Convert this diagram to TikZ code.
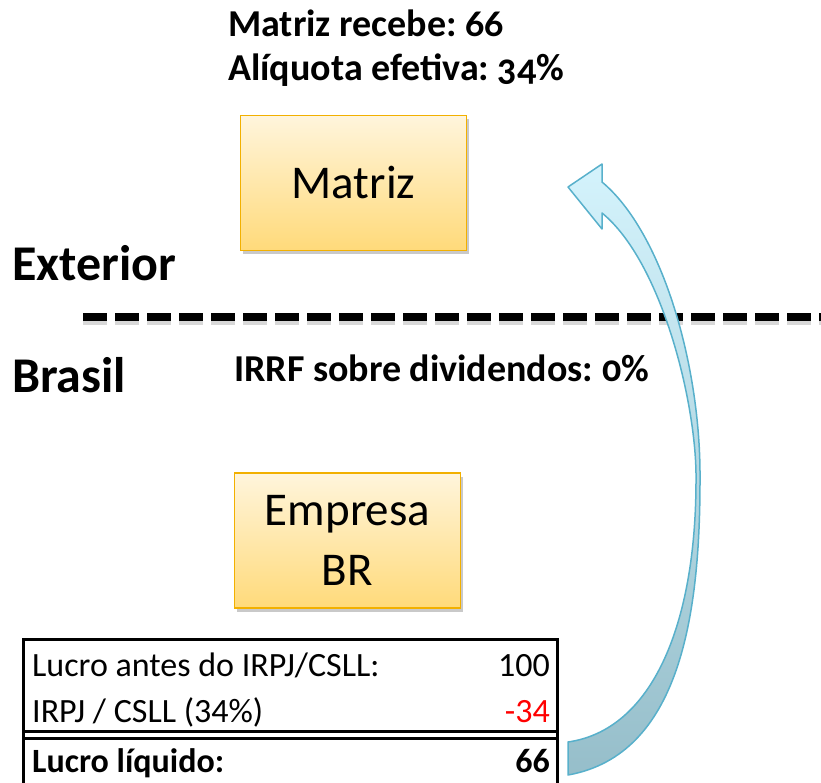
\documentclass[tikz,border=0pt]{standalone}
\usepackage{fontspec}
\setmainfont{Carlito}
\newfontfamily\headfont[Numbers=OldStyle]{Carlito}
\usetikzlibrary{shadows}
\frenchspacing
\definecolor{boxborder}{RGB}{242,176,0}
\definecolor{boxtop}{RGB}{255,245,220}
\definecolor{boxbot}{RGB}{255,218,122}
\definecolor{arrborder}{RGB}{88,176,203}
\definecolor{arrtop}{RGB}{212,243,252}
\definecolor{arrmid}{RGB}{170,222,238}
\definecolor{arrbot}{RGB}{150,190,202}
\definecolor{negred}{RGB}{255,0,0}
\begin{document}
\begin{tikzpicture}[x=1pt,y=-1pt,
  entity/.style={draw=boxborder, line width=1.6pt, top color=boxtop, bottom color=boxbot,
    minimum width=226pt, minimum height=135pt, align=center,
    font=\fontsize{47}{60}\selectfont,
    drop shadow={shadow xshift=2pt, shadow yshift=-4pt, opacity=0.3, fill=black!70}},
  heading/.style={font=\headfont\bfseries\fontsize{38}{44}\selectfont, inner sep=0pt, anchor=base west},
  region/.style={font=\headfont\bfseries\fontsize{50}{56}\selectfont, inner sep=0pt, anchor=base west},
  cell/.style={font=\fontsize{34}{40}\selectfont, inner sep=0pt, anchor=base west},
  num/.style={font=\fontsize{34}{40}\selectfont, inner sep=0pt, anchor=base east},
  rule/.style={line width=3pt},
  divider/.style={line width=8pt, dash pattern=on 24pt off 8pt},
]
\useasboundingbox (0,0) rectangle (821,783);

% headings
\node[heading] (recebe) at (228,37) {Matriz recebe: 66};
\node[heading] (aliquota) at (228,81) {Alíquota efetiva: 34\%};
\node[region] (exterior) at (12,281) {Exterior};
\node[region] (brasil) at (12,392) {Brasil};
\node[heading] (irrf) at (234,381) {IRRF sobre dividendos: 0\%};

% divider
\coordinate (dashL) at (83,317);
\coordinate (dashR) at (821,317);
\draw[divider, black!30, opacity=0.5] ([yshift=-4pt]dashL) -- ([yshift=-4pt]dashR);
\draw[divider] (dashL) -- (dashR);

% boxes
\node[entity] (matriz) at (353.5,183) {Matriz};
\node[entity] (empresa) at (347.5,540.5) {Empresa\\BR};

% table
\draw[rule] (23,783) -- (23,639) -- (557,639) -- (557,783);
\draw[rule] (23,731) -- (557,731);
\draw[rule] (23,738) -- (557,738);
\node[cell] (r1l) at (32,676) {Lucro antes do IRPJ/CSLL:};
\node[num] (r1r) at (550,676) {100};
\node[cell] (r2l) at (32,722) {IRPJ / CSLL (34\%)};
\node[num, text=negred] (r2r) at (550,722) {-34};
\node[cell, font=\bfseries\fontsize{34}{40}\selectfont] (r3l) at (32,772) {Lucro líquido:};
\node[num, font=\bfseries\fontsize{34}{40}\selectfont] (r3r) at (550,772) {66};

% curved arrow
\path[draw=arrborder, line width=1.5pt, line join=round,
      top color=arrtop, middle color=arrmid, bottom color=arrbot]
  (568,742) .. controls (652,730) and (696,625) .. (696,480)
  .. controls (697,405) and (662,262) .. (602,213)
  -- (602,229) -- (568,187) -- (602,164) -- (602,182)
  .. controls (662,232) and (701,365) .. (700,480)
  .. controls (700,615) and (680,755) .. (568,775) -- cycle;
\end{tikzpicture}
\end{document}
